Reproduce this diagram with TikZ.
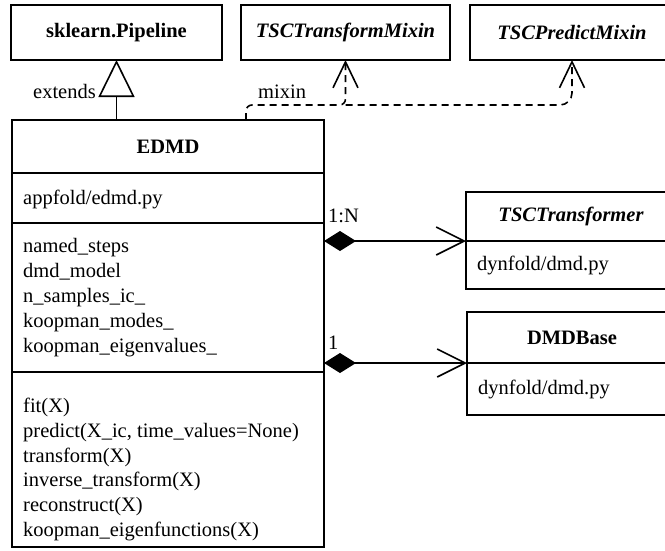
\documentclass[tikz,border=0pt]{standalone}
\usepackage{fontspec}
\setmainfont{Liberation Serif}
\usetikzlibrary{arrows.meta}
\begin{document}
\begin{tikzpicture}[x=1pt,y=-1pt,
  every node/.style={font=\fontsize{20.5}{24.8}\selectfont},
  box/.style={draw, line width=1.9pt, anchor=north west, inner sep=0pt, outer sep=0pt},
  lbl/.style={inner sep=0pt, align=left},
  title/.style={font=\fontsize{20.5}{24.8}\selectfont\bfseries},
  ititle/.style={font=\fontsize{20.5}{24.8}\selectfont\bfseries\itshape},
  conn/.style={line width=1.6pt},
  dsh/.style={dash pattern=on 7pt off 5pt},
  barb/.style={-{Straight Barb[length=26pt,width=25pt]}},
  agg/.style={{Diamond[length=32pt,width=20pt]}-{Straight Barb[length=28pt,width=28pt]}}
  ]
\useasboundingbox (0,0) rectangle (665,550);

% top classes
\node[box, title, minimum width=211pt, minimum height=55pt] (skl) at (11,5) {sklearn.Pipeline};
\node[box, ititle, minimum width=209pt, minimum height=55pt] (tscTM) at (241,5) {TSCTransformMixin};
\node[box, ititle, minimum width=204pt, minimum height=55pt] (tscPM) at (470,5) {TSCPredictMixin};

% EDMD
\node[box, title, minimum width=312pt, minimum height=53pt] (edmdT) at (12,120) {EDMD};
\node[box, minimum width=312pt, minimum height=50pt] (edmdF) at (12,173) {};
\node[box, minimum width=312pt, minimum height=149pt] (edmdA) at (12,223) {};
\node[box, minimum width=312pt, minimum height=175pt] (edmdM) at (12,372) {};
\node[lbl, anchor=west] (edmdFt) at (23,199) {appfold/edmd.py};
\node[lbl, anchor=west] (edmdAt) at (23,297.5) {named\_steps\\dmd\_model\\n\_samples\_ic\_\\koopman\_modes\_\\koopman\_eigenvalues\_};
\node[lbl, anchor=west] (edmdMt) at (23,469.5) {fit(X)\\predict(X\_ic, time\_values=None)\\transform(X)\\inverse\_transform(X)\\reconstruct(X)\\koopman\_eigenfunctions(X)};

% TSCTransformer
\node[box, ititle, minimum width=210pt, minimum height=49pt] (tsctT) at (466,192) {TSCTransformer};
\node[box, minimum width=210pt, minimum height=48pt] (tsctF) at (466,241) {};
\node[lbl, anchor=west] (tsctFt) at (477,265) {dynfold/dmd.py};

% DMDBase
\node[box, title, minimum width=210pt, minimum height=51pt] (dmdT) at (467,312) {DMDBase};
\node[box, minimum width=210pt, minimum height=52pt] (dmdF) at (467,363) {};
\node[lbl, anchor=west] (dmdFt) at (478,389) {dynfold/dmd.py};

% inheritance
\draw[conn, -{Triangle[open, length=37pt, width=36pt]}] (edmdT.north -| skl.south) -- (skl.south);
\node[anchor=base east, inner sep=0pt] (ext) at (96,98) {extends};

% mixins
\coordinate (mixstart) at (246,120);
\coordinate (mixy) at (0,105);
\draw[conn, dsh, rounded corners=6pt, barb] (mixstart) -- (mixstart |- mixy) -- (tscTM.south |- mixy) -- (tscTM.south);
\draw[conn, dsh, rounded corners=12pt, barb] (tscTM.south |- mixy) -- (tscPM.south |- mixy) -- (tscPM.south);
\node[anchor=base west, inner sep=0pt] (mix) at (258,98) {mixin};

% aggregations
\draw[conn, agg] (tsctT.south west -| edmdA.east) -- (tsctT.south west);
\draw[conn, agg] (dmdT.south west -| edmdA.east) -- (dmdT.south west);
\node[anchor=base west, inner sep=0pt] (l1n) at (328,222) {1:N};
\node[anchor=base west, inner sep=0pt] (l1) at (328,349) {1};
\end{tikzpicture}
\end{document}
